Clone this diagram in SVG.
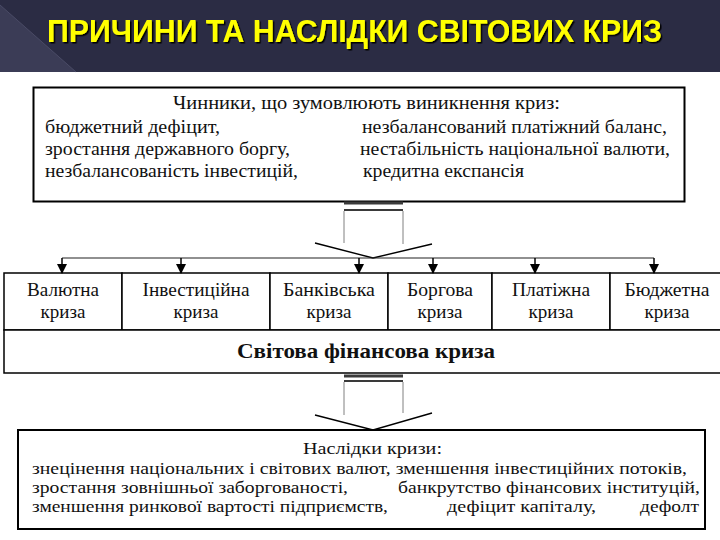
<svg xmlns="http://www.w3.org/2000/svg" width="720" height="540" viewBox="0 0 720 540">
  <style>
    .box { fill: #ffffff; stroke: #000000; stroke-width: 2; }
    .cell { fill: #ffffff; stroke: #000000; stroke-width: 1.5; }
    .txt { font-family: "Liberation Serif", "Times New Roman", serif; font-size: 18px; fill: #111111; }
    .sm { font-size: 16px; }
    .lbl { font-family: "Liberation Serif", "Times New Roman", serif; font-size: 19px; fill: #111111; text-anchor: middle; }
    .bold { font-family: "Liberation Serif", "Times New Roman", serif; font-size: 21px; font-weight: bold; fill: #111111; }
    .title { font-family: "Liberation Sans", Arial, sans-serif; font-size: 32px; font-weight: bold; fill: #ffff00; }
    .dist { stroke: #222222; stroke-width: 1.2; fill: none; }
    .down { stroke: #000000; stroke-width: 1.5; fill: none; }
    .side { stroke: #808080; stroke-width: 1; fill: none; }
    .wing { stroke: #000000; stroke-width: 1.4; fill: none; }
    .dbl { stroke: #3a3a3a; fill: none; }
  </style>
  <defs>
    <marker id="ah" markerUnits="userSpaceOnUse" markerWidth="10" markerHeight="11" refX="9" refY="5" orient="auto">
      <path d="M0,0 L10,5 L0,10 z" fill="#000000"/>
    </marker>
    <filter id="shadow" x="-5%" y="-20%" width="110%" height="150%">
      <feDropShadow dx="1.5" dy="1.5" stdDeviation="0.6" flood-color="#000000" flood-opacity="1"/>
    </filter>
  </defs>

  <rect x="0" y="0" width="720" height="540" fill="#ffffff"/>

  <g id="header">
    <rect x="0" y="0" width="720" height="72" fill="#2b2c44"/>
    <polygon points="0,5 76,72 0,72" fill="#3b3c56"/>
    <line x1="0" y1="5" x2="76" y2="72" stroke="#4a4b66" stroke-width="1"/>
    <text class="title" x="47" y="42" textLength="615" lengthAdjust="spacingAndGlyphs" filter="url(#shadow)">ПРИЧИНИ ТА НАСЛІДКИ СВІТОВИХ КРИЗ</text>
  </g>

  <g id="causes">
    <rect class="box" x="33.5" y="87.5" width="651" height="114"/>
    <text class="txt" x="173" y="109" textLength="387" lengthAdjust="spacingAndGlyphs">Чинники, що зумовлюють виникнення криз:</text>
    <text class="txt" x="45" y="133" textLength="175" lengthAdjust="spacingAndGlyphs">бюджетний дефіцит,</text>
    <text class="txt" x="45" y="155" textLength="245" lengthAdjust="spacingAndGlyphs">зростання державного боргу,</text>
    <text class="txt" x="45" y="177" textLength="253" lengthAdjust="spacingAndGlyphs">незбалансованість інвестицій,</text>
    <text class="txt" x="362" y="133" textLength="305" lengthAdjust="spacingAndGlyphs">незбалансований платіжний баланс,</text>
    <text class="txt" x="360" y="155" textLength="310" lengthAdjust="spacingAndGlyphs">нестабільність національної валюти,</text>
    <text class="txt" x="363" y="177" textLength="161" lengthAdjust="spacingAndGlyphs">кредитна експансія</text>
  </g>

  <g id="crisis-currency">
    <rect class="cell" x="4" y="273" width="118" height="57"/>
    <text class="lbl" x="63" y="296" textLength="72" lengthAdjust="spacingAndGlyphs">Валютна</text>
    <text class="lbl" x="63" y="318">криза</text>
  </g>
  <g id="crisis-investment">
    <rect class="cell" x="122" y="273" width="148" height="57"/>
    <text class="lbl" x="196" y="296" textLength="107" lengthAdjust="spacingAndGlyphs">Інвестиційна</text>
    <text class="lbl" x="196" y="318">криза</text>
  </g>
  <g id="crisis-bank">
    <rect class="cell" x="270" y="273" width="118" height="57"/>
    <text class="lbl" x="329" y="296" textLength="92" lengthAdjust="spacingAndGlyphs">Банківська</text>
    <text class="lbl" x="329" y="318">криза</text>
  </g>
  <g id="crisis-debt">
    <rect class="cell" x="388" y="273" width="104" height="57"/>
    <text class="lbl" x="440" y="296" textLength="66" lengthAdjust="spacingAndGlyphs">Боргова</text>
    <text class="lbl" x="440" y="318">криза</text>
  </g>
  <g id="crisis-payment">
    <rect class="cell" x="492" y="273" width="118" height="57"/>
    <text class="lbl" x="551" y="296" textLength="78" lengthAdjust="spacingAndGlyphs">Платіжна</text>
    <text class="lbl" x="551" y="318">криза</text>
  </g>
  <g id="crisis-budget">
    <rect class="cell" x="610" y="273" width="114" height="57"/>
    <text class="lbl" x="667" y="296" textLength="85" lengthAdjust="spacingAndGlyphs">Бюджетна</text>
    <text class="lbl" x="667" y="318">криза</text>
  </g>

  <g id="global-crisis">
    <rect class="cell" x="4" y="330" width="720" height="43"/>
    <text class="bold" x="237" y="358" textLength="258" lengthAdjust="spacingAndGlyphs">Світова фінансова криза</text>
  </g>

  <g id="consequences">
    <rect class="box" x="18" y="430" width="687" height="99"/>
    <text class="txt sm" x="303" y="454" textLength="139" lengthAdjust="spacingAndGlyphs">Наслідки кризи:</text>
    <text class="txt sm" x="32" y="474" textLength="655" lengthAdjust="spacingAndGlyphs">знецінення національних і світових валют, зменшення інвестиційних потоків,</text>
    <text class="txt sm" x="32" y="493" textLength="316" lengthAdjust="spacingAndGlyphs">зростання зовнішньої заборгованості,</text>
    <text class="txt sm" x="398" y="493" textLength="302" lengthAdjust="spacingAndGlyphs">банкрутство фінансових інституцій,</text>
    <text class="txt sm" x="32" y="512" textLength="356" lengthAdjust="spacingAndGlyphs">зменшення ринкової вартості підприємств,</text>
    <text class="txt sm" x="447" y="512" textLength="149" lengthAdjust="spacingAndGlyphs">дефіцит капіталу,</text>
    <text class="txt sm" x="640" y="512" textLength="59" lengthAdjust="spacingAndGlyphs">дефолт</text>
  </g>

  <g id="connectors">
    <line class="dbl" x1="344" y1="203" x2="403" y2="203" stroke-width="3"/>
    <line class="dbl" x1="344" y1="210" x2="403" y2="210" stroke-width="2"/>
    <line class="side" x1="344" y1="211" x2="344" y2="243"/>
    <line class="side" x1="403" y1="211" x2="403" y2="244"/>
    <polyline class="wing" points="315,243 373,258 432,244"/>
    <line class="dist" x1="62" y1="258" x2="654" y2="258"/>
    <line class="down" x1="62" y1="258" x2="62" y2="273" marker-end="url(#ah)"/>
    <line class="down" x1="181" y1="258" x2="181" y2="273" marker-end="url(#ah)"/>
    <line class="down" x1="359" y1="258" x2="359" y2="273" marker-end="url(#ah)"/>
    <line class="down" x1="433" y1="258" x2="433" y2="273" marker-end="url(#ah)"/>
    <line class="down" x1="535" y1="258" x2="535" y2="273" marker-end="url(#ah)"/>
    <line class="down" x1="654" y1="258" x2="654" y2="273" marker-end="url(#ah)"/>
    <line class="dbl" x1="344" y1="376" x2="403" y2="376" stroke-width="3"/>
    <line class="dbl" x1="344" y1="381" x2="403" y2="381" stroke-width="2"/>
    <line class="side" x1="344" y1="382" x2="344" y2="415"/>
    <line class="side" x1="403" y1="382" x2="403" y2="413"/>
    <polyline class="wing" points="315,415 373,430 432,413"/>
  </g>
</svg>
